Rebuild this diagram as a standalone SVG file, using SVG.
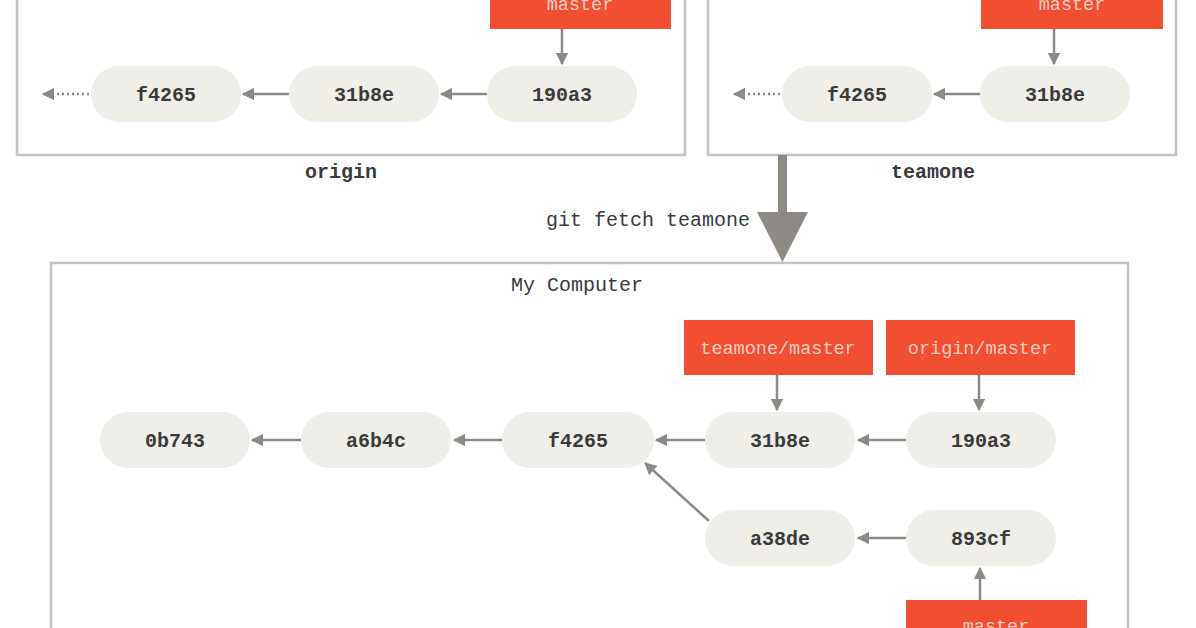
<svg xmlns="http://www.w3.org/2000/svg" width="1196" height="628" viewBox="0 0 1196 628">
<defs>
<marker id="ah" viewBox="0 0 10 10" refX="9" refY="5" markerWidth="5" markerHeight="5" orient="auto" markerUnits="strokeWidth">
<path d="M0,0 L10,5 L0,10 z" fill="#8d8a85"/>
</marker>
<style>
.box{fill:#fff;stroke:#c4c4c4;stroke-width:2.5}
.commit{fill:#efeee9}
.ct{font-family:"Liberation Mono","DejaVu Sans Mono",monospace;font-size:20px;fill:#3a3a3a;text-anchor:middle;font-weight:bold}
.ref{fill:#f14e32}
.rt{font-family:"Liberation Mono","DejaVu Sans Mono",monospace;font-size:18.5px;fill:#f8cfc2;text-anchor:middle}
.lbl{font-family:"Liberation Mono","DejaVu Sans Mono",monospace;font-size:20px;fill:#3a3a3a;text-anchor:middle}
.conn{stroke:#8d8a85;stroke-width:2.5;fill:none;marker-end:url(#ah)}
.dot{stroke:#8d8a85;stroke-width:2.5;fill:none;stroke-dasharray:2 3;marker-end:url(#ah)}
</style>
</defs>
<rect width="1196" height="628" fill="#fff"/>
<g id="origin-repo">
<rect class="box" x="17" y="-10" width="668" height="165"/>
<text class="lbl" x="341" y="178" font-weight="bold">origin</text>
</g>
<g id="teamone-repo">
<rect class="box" x="708" y="-10" width="468" height="165"/>
<text class="lbl" x="933" y="178" font-weight="bold">teamone</text>
</g>
<g id="my-computer">
<rect class="box" x="51" y="263" width="1077" height="380"/>
<text class="lbl" x="577" y="291">My Computer</text>
</g>
<g id="origin-master"><rect class="ref" x="490" y="-10" width="181" height="39"/><text class="rt" x="580" y="10">master</text></g>
<g id="origin-f4265"><rect class="commit" x="91" y="66" width="150" height="56" rx="28"/><text class="ct" x="166" y="101">f4265</text></g>
<g id="origin-31b8e"><rect class="commit" x="289" y="66" width="150" height="56" rx="28"/><text class="ct" x="364" y="101">31b8e</text></g>
<g id="origin-190a3"><rect class="commit" x="487" y="66" width="150" height="56" rx="28"/><text class="ct" x="562" y="101">190a3</text></g>
<g id="teamone-master"><rect class="ref" x="981" y="-10" width="182" height="39"/><text class="rt" x="1072" y="10">master</text></g>
<g id="teamone-f4265"><rect class="commit" x="782" y="66" width="150" height="56" rx="28"/><text class="ct" x="857" y="101">f4265</text></g>
<g id="teamone-31b8e"><rect class="commit" x="980" y="66" width="150" height="56" rx="28"/><text class="ct" x="1055" y="101">31b8e</text></g>
<g id="local-teamone-master"><rect class="ref" x="684" y="320" width="189" height="55"/><text class="rt" x="778" y="354">teamone/master</text></g>
<g id="local-origin-master"><rect class="ref" x="886" y="320" width="189" height="55"/><text class="rt" x="980" y="354">origin/master</text></g>
<g id="c-0b743"><rect class="commit" x="100" y="412" width="150" height="56" rx="28"/><text class="ct" x="175" y="447">0b743</text></g>
<g id="c-a6b4c"><rect class="commit" x="301" y="412" width="150" height="56" rx="28"/><text class="ct" x="376" y="447">a6b4c</text></g>
<g id="c-f4265"><rect class="commit" x="502" y="412" width="152" height="56" rx="28"/><text class="ct" x="578" y="447">f4265</text></g>
<g id="c-31b8e"><rect class="commit" x="705" y="412" width="150" height="56" rx="28"/><text class="ct" x="780" y="447">31b8e</text></g>
<g id="c-190a3"><rect class="commit" x="906" y="412" width="150" height="56" rx="28"/><text class="ct" x="981" y="447">190a3</text></g>
<g id="c-a38de"><rect class="commit" x="705" y="510" width="150" height="56" rx="28"/><text class="ct" x="780" y="545">a38de</text></g>
<g id="c-893cf"><rect class="commit" x="906" y="510" width="150" height="56" rx="28"/><text class="ct" x="981" y="545">893cf</text></g>
<g id="local-master"><rect class="ref" x="906" y="600" width="181" height="40"/><text class="rt" x="996" y="632">master</text></g>
<g id="connectors">
<line class="conn" x1="562" y1="29" x2="562" y2="64"/>
<line class="conn" x1="487" y1="94" x2="441" y2="94"/>
<line class="conn" x1="289" y1="94" x2="243" y2="94"/>
<line class="dot" x1="89" y1="94" x2="43" y2="94"/>
<line class="conn" x1="1054" y1="29" x2="1054" y2="64"/>
<line class="conn" x1="980" y1="94" x2="934" y2="94"/>
<line class="dot" x1="780" y1="94" x2="734" y2="94"/>
<line class="conn" x1="777" y1="375" x2="777" y2="410"/>
<line class="conn" x1="979" y1="375" x2="979" y2="410"/>
<line class="conn" x1="906" y1="440" x2="858" y2="440"/>
<line class="conn" x1="705" y1="440" x2="656" y2="440"/>
<line class="conn" x1="502" y1="440" x2="454" y2="440"/>
<line class="conn" x1="301" y1="440" x2="252" y2="440"/>
<line class="conn" x1="906" y1="538" x2="858" y2="538"/>
<line class="conn" x1="709" y1="521" x2="645" y2="463"/>
<line class="conn" x1="980" y1="600" x2="980" y2="568"/>
<g id="fetch-arrow">
<rect x="778" y="155" width="9" height="60" fill="#8d8a85"/>
<path d="M757,212 L808,212 L782.5,262 z" fill="#8d8a85"/>
</g>
<text class="lbl" x="750" y="226" text-anchor="end" style="text-anchor:end">git fetch teamone</text>
</g>
</svg>
